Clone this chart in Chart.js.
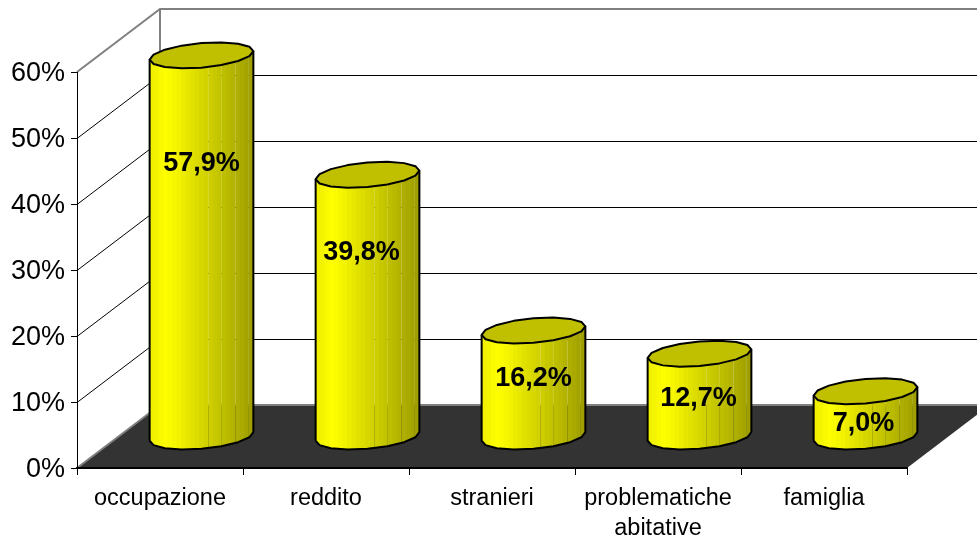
<!DOCTYPE html>
<html lang="it">
<head>
    <meta charset="UTF-8">
    <title>Grafico a cilindri</title>
    <script src="https://cdn.jsdelivr.net/npm/chart.js"></script>
    <style>
        html, body { margin: 0; padding: 0; background: #fff; overflow: hidden; }
        canvas { display: block; }
    </style>
</head>
<body>
    <canvas id="chart" width="977" height="538"></canvas>
    <script>
        const categories = ['occupazione', 'reddito', 'stranieri', ['problematiche', 'abitative'], 'famiglia'];
        const values = [57.9, 39.8, 16.2, 12.7, 7.0];
        const valueLabels = ['57,9%', '39,8%', '16,2%', '12,7%', '7,0%'];

        // scostamento delle etichette rispetto al centro del tappo
        const labelShiftX = [0, -6, 0, -1, -2];
        const labelShiftY = [108, 78, 48, 45, 32];

        const DEPTH_X = 83, DEPTH_Y = 63;   // profondita del piano 3D
        const FONT = '"Liberation Sans", Arial, sans-serif';

        // contorno del cilindro: cerchio inclinato come il pavimento, a facce
        function ring(cx, cy) {
            const a = 49, b = 17, c = 13, n = 16;
            const t0 = Math.atan2(b, a);
            const pts = [];
            for (let i = 0; i < n; i++) {
                const t = t0 + i * 2 * Math.PI / n;
                pts.push([cx + a * Math.cos(t) + b * Math.sin(t), cy - c * Math.sin(t)]);
            }
            return pts;
        }

        const walls = {
            id: 'walls',
            beforeDraw(chart) {
                const ctx = chart.ctx, y = chart.scales.y;
                const l = chart.chartArea.left, r = chart.chartArea.right, b = y.getPixelForValue(0);
                ctx.save();
                ctx.lineWidth = 1;
                ctx.strokeStyle = '#000';
                y.ticks.forEach(t => {
                    if (t.value === 0 || t.value === y.max) return;
                    const py = Math.round(y.getPixelForValue(t.value)) + 0.5;
                    ctx.beginPath();
                    ctx.moveTo(l, py);
                    ctx.lineTo(l + DEPTH_X, py - DEPTH_Y);
                    ctx.lineTo(r + DEPTH_X, py - DEPTH_Y);
                    ctx.stroke();
                });
                // pavimento
                ctx.fillStyle = '#333333';
                ctx.beginPath();
                ctx.moveTo(l, b);
                ctx.lineTo(r, b);
                ctx.lineTo(r + DEPTH_X, b - DEPTH_Y);
                ctx.lineTo(l + DEPTH_X, b - DEPTH_Y);
                ctx.closePath();
                ctx.fill();
                // bordi grigi
                const top = y.getPixelForValue(y.max);
                ctx.strokeStyle = '#808080';
                ctx.lineWidth = 2;
                ctx.beginPath();
                ctx.moveTo(l, top);
                ctx.lineTo(l + DEPTH_X, top - DEPTH_Y);
                ctx.lineTo(r + DEPTH_X, top - DEPTH_Y);
                ctx.moveTo(l + DEPTH_X, top - DEPTH_Y);
                ctx.lineTo(l + DEPTH_X, b - DEPTH_Y);
                ctx.lineTo(r + DEPTH_X, b - DEPTH_Y);
                ctx.moveTo(l + DEPTH_X, b - DEPTH_Y);
                ctx.lineTo(l, b);
                ctx.stroke();
                ctx.restore();
            }
        };

        const cylinders = {
            id: 'cylinders',
            afterDatasetsDraw(chart) {
                const ctx = chart.ctx;
                const zero = chart.scales.y.getPixelForValue(0);
                chart.getDatasetMeta(0).data.forEach((bar, i) => {
                    const cx = bar.x + DEPTH_X / 2;
                    const capY = bar.y - DEPTH_Y / 2 + 1;
                    const base = ring(cx, zero - DEPTH_Y / 2);
                    const cap = ring(cx, capY);
                    const n = base.length;

                    const side = new Path2D();
                    side.moveTo(cap[n / 2][0], cap[n / 2][1]);
                    for (let k = n / 2; k < n; k++) side.lineTo(base[k][0], base[k][1]);
                    side.lineTo(base[0][0], base[0][1]);
                    side.lineTo(cap[0][0], cap[0][1]);

                    ctx.save();
                    ctx.clip(side);
                    const x0 = cap[n / 2][0], w = cap[0][0] - x0, strips = 23;
                    for (let s = 0; s < strips; s++) {
                        const f = (s + 0.5) / strips;
                        const lum = f < 0.16 ? 0.93 + f * 0.44 : 1 - (f - 0.16) * 0.46;
                        const v = Math.round(255 * lum);
                        ctx.fillStyle = `rgb(${v},${v},0)`;
                        // solo alcune fasce lasciano intravedere lo sfondo
                        const seam = s > 10 && s % 3 === 0;
                        ctx.fillRect(x0 + s * w / strips, 0, w / strips + (seam ? 0 : 1), chart.height);
                    }
                    ctx.restore();

                    ctx.save();
                    ctx.lineJoin = 'round';
                    ctx.lineWidth = 2;
                    ctx.strokeStyle = '#000';
                    ctx.stroke(side);
                    ctx.beginPath();
                    cap.forEach((p, k) => k ? ctx.lineTo(p[0], p[1]) : ctx.moveTo(p[0], p[1]));
                    ctx.closePath();
                    ctx.fillStyle = '#c0c000';
                    ctx.fill();
                    ctx.stroke();

                    ctx.fillStyle = '#000';
                    ctx.font = 'bold 27px ' + FONT;
                    ctx.textAlign = 'center';
                    ctx.textBaseline = 'middle';
                    ctx.fillText(valueLabels[i], cx + labelShiftX[i], bar.y - DEPTH_Y / 2 + labelShiftY[i] + 1);
                    ctx.restore();
                });
            }
        };

        new Chart(document.getElementById('chart'), {
            type: 'bar',
            data: {
                labels: categories,
                datasets: [{ data: values, backgroundColor: 'transparent', borderWidth: 0 }]
            },
            options: {
                responsive: false,
                animation: false,
                layout: { padding: { top: 72, right: 70, left: 0, bottom: 0 } },
                plugins: { legend: { display: false }, tooltip: { enabled: false } },
                scales: {
                    x: {
                        afterFit: s => { s.height = 70; },
                        grid: { drawOnChartArea: false, color: '#000', tickLength: 7, offset: true },
                        border: { color: '#000', width: 2 },
                        ticks: {
                            color: '#000', maxRotation: 0, autoSkip: false, padding: 8,
                            font: { family: FONT, size: 23.5, lineHeight: 1.28 }
                        }
                    },
                    y: {
                        min: 0, max: 60,
                        afterFit: s => { s.width = 77; },
                        grid: { drawOnChartArea: false, color: '#000', tickLength: 6 },
                        border: { color: '#000', width: 1 },
                        ticks: {
                            color: '#000', stepSize: 10, padding: 6, labelOffset: 2,
                            font: { family: FONT, size: 27 },
                            callback: v => v + '%'
                        }
                    }
                }
            },
            plugins: [walls, cylinders]
        });
    </script>
</body>
</html>
